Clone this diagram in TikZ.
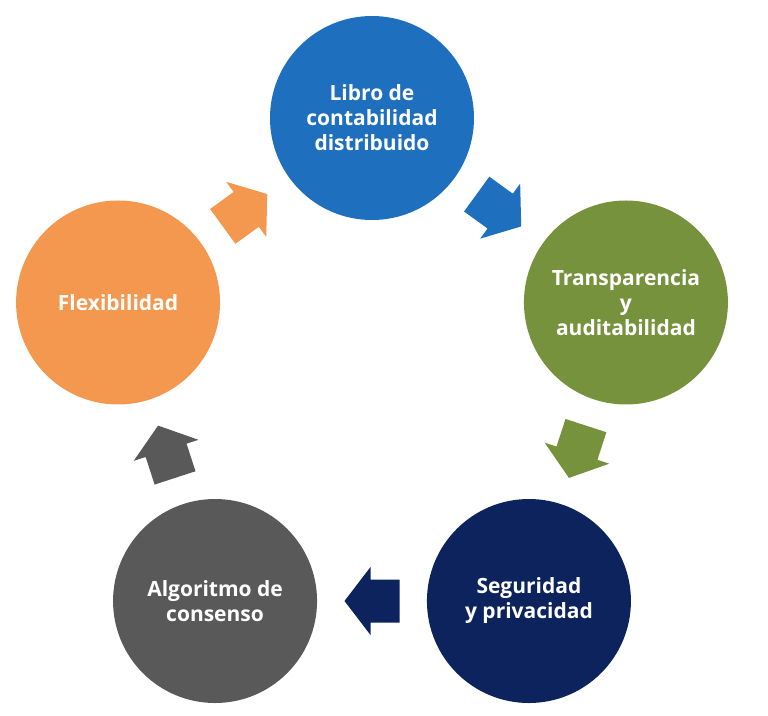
\documentclass[tikz,border=0pt]{standalone}
\usepackage{fontspec}
\setmainfont{Open Sans}
\usetikzlibrary{calc}
\definecolor{libroblue}{RGB}{30,112,190}
\definecolor{transgreen}{RGB}{118,146,60}
\definecolor{segnavy}{RGB}{13,35,94}
\definecolor{alggray}{RGB}{89,89,89}
\definecolor{flexorange}{RGB}{244,152,80}
\begin{document}
\begin{tikzpicture}[x=1pt, y=1pt,
        etapa/.style={circle, minimum size=204pt, inner sep=0pt, text=white,
            font=\bfseries\fontsize{21}{25}\selectfont, align=center}]
            \useasboundingbox (-372,-330) rectangle (396,385);

            \node[etapa, fill=libroblue] (libro) at (90:267) {Libro de\\contabilidad\\distribuido};
            \node[etapa, fill=transgreen] (transp) at (18:267) {Transparencia\\y\\auditabilidad};
            \node[etapa, fill=segnavy] (seguridad) at (-54:267) {Seguridad\\y privacidad};
            \node[etapa, fill=alggray] (algoritmo) at (-126:267) {Algoritmo de\\consenso};
            \node[etapa, fill=flexorange] (flexib) at (162:267) {Flexibilidad};

            \foreach \a/\b/\c/\r in {libro/transp/libroblue/-36,
                    transp/seguridad/transgreen/-108,
                    seguridad/algoritmo/segnavy/180,
                    algoritmo/flexib/alggray/108,
                    flexib/libro/flexorange/36}
                {
                    \begin{scope}[shift={($(\a)!0.5!(\b)$)}, rotate=\r]
                        \fill[\c] (-27.5,-21.5) -- (1.5,-21.5) -- (1.5,-34) -- (27.5,0)
                            -- (1.5,34) -- (1.5,21.5) -- (-27.5,21.5) -- cycle;
                    \end{scope}
                }
        \end{tikzpicture}
\end{document}
